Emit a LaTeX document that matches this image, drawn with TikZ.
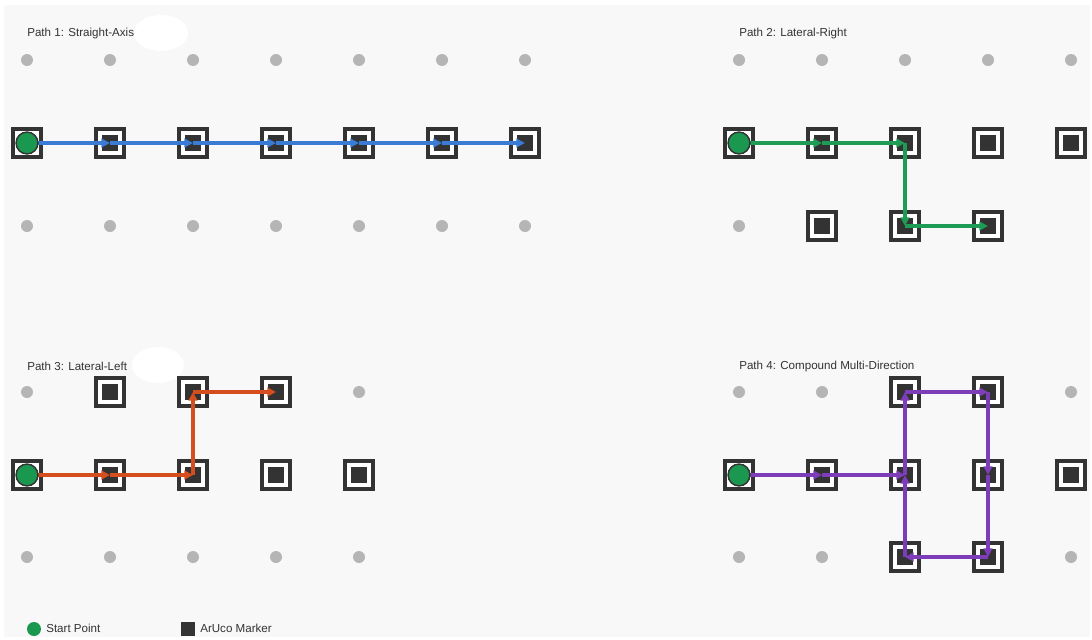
\documentclass[tikz,border=0pt]{standalone}
\usepackage{fontspec}
\setmainfont{Liberation Sans}
\usetikzlibrary{arrows.meta}
\definecolor{bg}{HTML}{F8F8F8}
\definecolor{mk}{HTML}{333333}
\definecolor{dotc}{HTML}{B5B5B5}
\definecolor{startc}{HTML}{1A9850}
\definecolor{cA}{HTML}{3A7BD5}
\definecolor{cB}{HTML}{1E9B55}
\definecolor{cC}{HTML}{D44E1E}
\definecolor{cD}{HTML}{7E3DB8}
\newcommand\gridrow[5]{%
  \foreach \t [count=\c from 0] in {#5} {
    \node[\t] (#1-\c-#4) at ({#2+83*\c},#3) {};
  }}
\begin{document}
\begin{tikzpicture}[x=0.75pt,y=-0.75pt,
  mkpt/.style={draw=mk, line width=3pt, fill=white, minimum size=20.5pt, inner sep=0pt,
    path picture={\fill[mk] ([shift={(-6pt,-6pt)}]path picture bounding box.center) rectangle ([shift={(6pt,6pt)}]path picture bounding box.center);}},
  startpt/.style={draw=mk, line width=3pt, fill=white, minimum size=20.5pt, inner sep=0pt},
  startdisc/.style={fill=startc, draw=mk, line width=1.1pt},
  dotpt/.style={circle, fill=dotc, minimum size=9pt, inner sep=0pt},
  title/.style={anchor=west, font=\fontsize{8.7}{10}\selectfont, text=mk, inner sep=0pt},
  route/.style={line width=2.6pt, -{Triangle[length=6.5pt,width=6.5pt]}},
  blob/.style={fill=white},
]
\useasboundingbox (0,0) rectangle (1092,639);
\fill[white] (0,0) rectangle (1092,639);
\fill[bg] (4,5) rectangle (1090,637);

% titles and blobs
\fill[blob] (161,33) ellipse (27 and 18);
\fill[blob] (158,365) ellipse (26 and 18);
\node[title] (tA) at (27,34) {Path 1: Straight-Axis};
\node[title] (tB) at (739,34) {Path 2: Lateral-Right};
\node[title] (tC) at (27,366) {Path 3: Lateral-Left};
\node[title] (tD) at (739,366) {Path 4: Compound Multi-Direction};

% panel A
\gridrow{A}{27}{60}{0}{dotpt,dotpt,dotpt,dotpt,dotpt,dotpt,dotpt}
\gridrow{A}{27}{143}{1}{startpt,mkpt,mkpt,mkpt,mkpt,mkpt,mkpt}
\gridrow{A}{27}{226}{2}{dotpt,dotpt,dotpt,dotpt,dotpt,dotpt,dotpt}
% panel B
\gridrow{B}{739}{60}{0}{dotpt,dotpt,dotpt,dotpt,dotpt}
\gridrow{B}{739}{143}{1}{startpt,mkpt,mkpt,mkpt,mkpt}
\gridrow{B}{739}{226}{2}{dotpt,mkpt,mkpt,mkpt}
% panel C
\gridrow{C}{27}{392}{0}{dotpt,mkpt,mkpt,mkpt,dotpt}
\gridrow{C}{27}{475}{1}{startpt,mkpt,mkpt,mkpt,mkpt}
\gridrow{C}{27}{557}{2}{dotpt,dotpt,dotpt,dotpt,dotpt}
% panel D
\gridrow{D}{739}{392}{0}{dotpt,dotpt,mkpt,mkpt,dotpt}
\gridrow{D}{739}{475}{1}{startpt,mkpt,mkpt,mkpt,mkpt}
\gridrow{D}{739}{557}{2}{dotpt,dotpt,mkpt,mkpt,dotpt}

% routes
\foreach \i [evaluate=\i as \j using int(\i+1)] in {0,...,5}
  \draw[route,cA] (A-\i-1.center) -- (A-\j-1.center);

\foreach \a/\b in {0-1/1-1, 1-1/2-1, 2-1/2-2, 2-2/3-2}
  \draw[route,cB] (B-\a.center) -- (B-\b.center);

\foreach \a/\b in {0-1/1-1, 1-1/2-1, 2-1/2-0, 2-0/3-0}
  \draw[route,cC] (C-\a.center) -- (C-\b.center);

\foreach \a/\b in {0-1/1-1, 1-1/2-1, 2-1/2-0, 2-0/3-0, 3-0/3-1, 3-1/3-2, 3-2/2-2, 2-2/2-1}
  \draw[route,cD] (D-\a.center) -- (D-\b.center);

% start discs on top of the routes
\foreach \p in {A,B,C,D}
  \filldraw[startdisc] (\p-0-1.center) circle (8.2pt);

% legend
\node[circle, fill=startc, minimum size=10.5pt, inner sep=0pt] (lgS) at (34,629) {};
\node[title] (lgSt) at (46,628) {Start Point};
\node[fill=mk, minimum size=10.5pt, inner sep=0pt] (lgM) at (188,629) {};
\node[title] (lgMt) at (200,628) {ArUco Marker};
\end{tikzpicture}
\end{document}
